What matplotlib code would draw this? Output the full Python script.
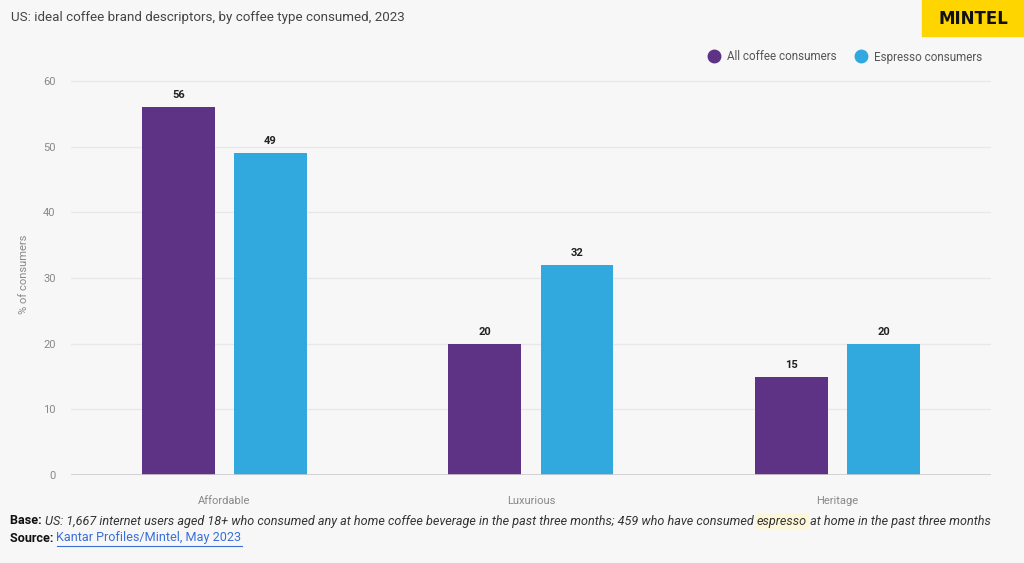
import numpy as np
import matplotlib.pyplot as plt
from matplotlib.lines import Line2D

categories = ['Affordable', 'Luxurious', 'Heritage']
all_coffee = [56, 20, 15]
espresso = [49, 32, 20]
series_names = ['All coffee consumers', 'Espresso consumers']
yticks = [0, 10, 20, 30, 40, 50, 60]

purple = '#5e3386'
blue = '#31a8de'
bg = '#f7f7f7'
FONT = ['Roboto', 'DejaVu Sans']
plt.rcParams['font.family'] = FONT

fig = plt.figure(figsize=(10.24, 5.63), dpi=100, facecolor=bg)
ax = fig.add_axes([0.0693, 0.1563, 0.8985, 0.7115])
ax.set_facecolor(bg)

x = np.arange(len(categories))
w = 0.238
off = 0.150
b1 = ax.bar(x - off, all_coffee, w, color=purple, zorder=3)
b2 = ax.bar(x + off, espresso, w, color=blue, zorder=3)

for bars, vals in ((b1, all_coffee), (b2, espresso)):
    for r, v in zip(bars, vals):
        ax.annotate(str(v), (r.get_x() + r.get_width() / 2, v), xytext=(0, 5),
                    textcoords='offset points', ha='center', va='bottom',
                    fontsize=8, fontweight='bold', color='#222222')

ax.set_xlim(-0.5, 2.5)
ax.set_ylim(0, 61)
ax.set_yticks(yticks)
ax.set_xticks(x)
ax.set_xticklabels(categories)
ax.grid(axis='y', color='#e8e8e8', linewidth=1, zorder=0)
ax.axhline(0, color='#cccccc', linewidth=1.2, zorder=4)
for s in ax.spines.values():
    s.set_visible(False)
ax.tick_params(axis='both', length=0, labelsize=8, labelcolor='#888888')
ax.tick_params(axis='y', pad=11)
ax.tick_params(axis='x', pad=15)
ax.set_ylabel('% of consumers', fontsize=8, color='#888888', labelpad=10)

# title and logo
fig.text(11 / 1024, 1 - 17 / 563, 'US: ideal coffee brand descriptors, by coffee type consumed, 2023',
         fontsize=9.6, color='#444444', va='center')
fig.patches.append(plt.Rectangle((922 / 1024, 1 - 36 / 563), 102 / 1024, 36 / 563,
                                 transform=fig.transFigure, color='#ffd500', zorder=0))
fig.text(973 / 1024, 1 - 19 / 563, 'MINTEL', fontsize=12, fontweight='bold', color='#111111',
         ha='center', va='center', family=['DejaVu Sans'])

# legend
handles = [Line2D([], [], marker='o', linestyle='', markersize=9, color=c) for c in (purple, blue)]
fig.legend(handles, series_names, loc='center right', bbox_to_anchor=(987 / 1024, 1 - 57 / 563),
           ncol=2, frameon=False, handletextpad=0.6, columnspacing=1.6,
           labelcolor='#555555', borderaxespad=0, handlelength=1.0, prop={'size': 8.4})

# footer, pieces chained left to right
fig.canvas.draw()
r = fig.canvas.get_renderer()


def chain(x0, y, pieces):
    xpos = x0
    out = []
    for txt, kw in pieces:
        t = fig.text(xpos / 1024, 1 - y / 563, txt, va='center', fontsize=9.1, **kw)
        bb = t.get_window_extent(r)
        xpos = bb.x1
        out.append(t)
    return out


chain(10, 521, [
    ('Base: ', dict(fontweight='bold', color='#111111')),
    ('US: 1,667 internet users aged 18+ who consumed any at home coffee beverage in the past three months; 459 who have consumed ',
     dict(style='italic', color='#333333')),
    ('espresso', dict(style='italic', color='#333333',
                      bbox=dict(boxstyle='square,pad=0.15', fc='#fdf6d8', ec='none'))),
    (' at home in the past three months', dict(style='italic', color='#333333')),
])
src = chain(10, 538, [
    ('Source: ', dict(fontweight='bold', color='#111111')),
    ('Kantar Profiles/Mintel, May 2023', dict(color='#3a6fd8')),
])
bb = src[1].get_window_extent(r)
fig.lines.append(Line2D([bb.x0 / 1024, bb.x1 / 1024], [(bb.y0 - 1) / 563] * 2,
                        transform=fig.transFigure, color='#3a6fd8', linewidth=0.8))

plt.savefig('out.png', dpi=100, facecolor=bg)
